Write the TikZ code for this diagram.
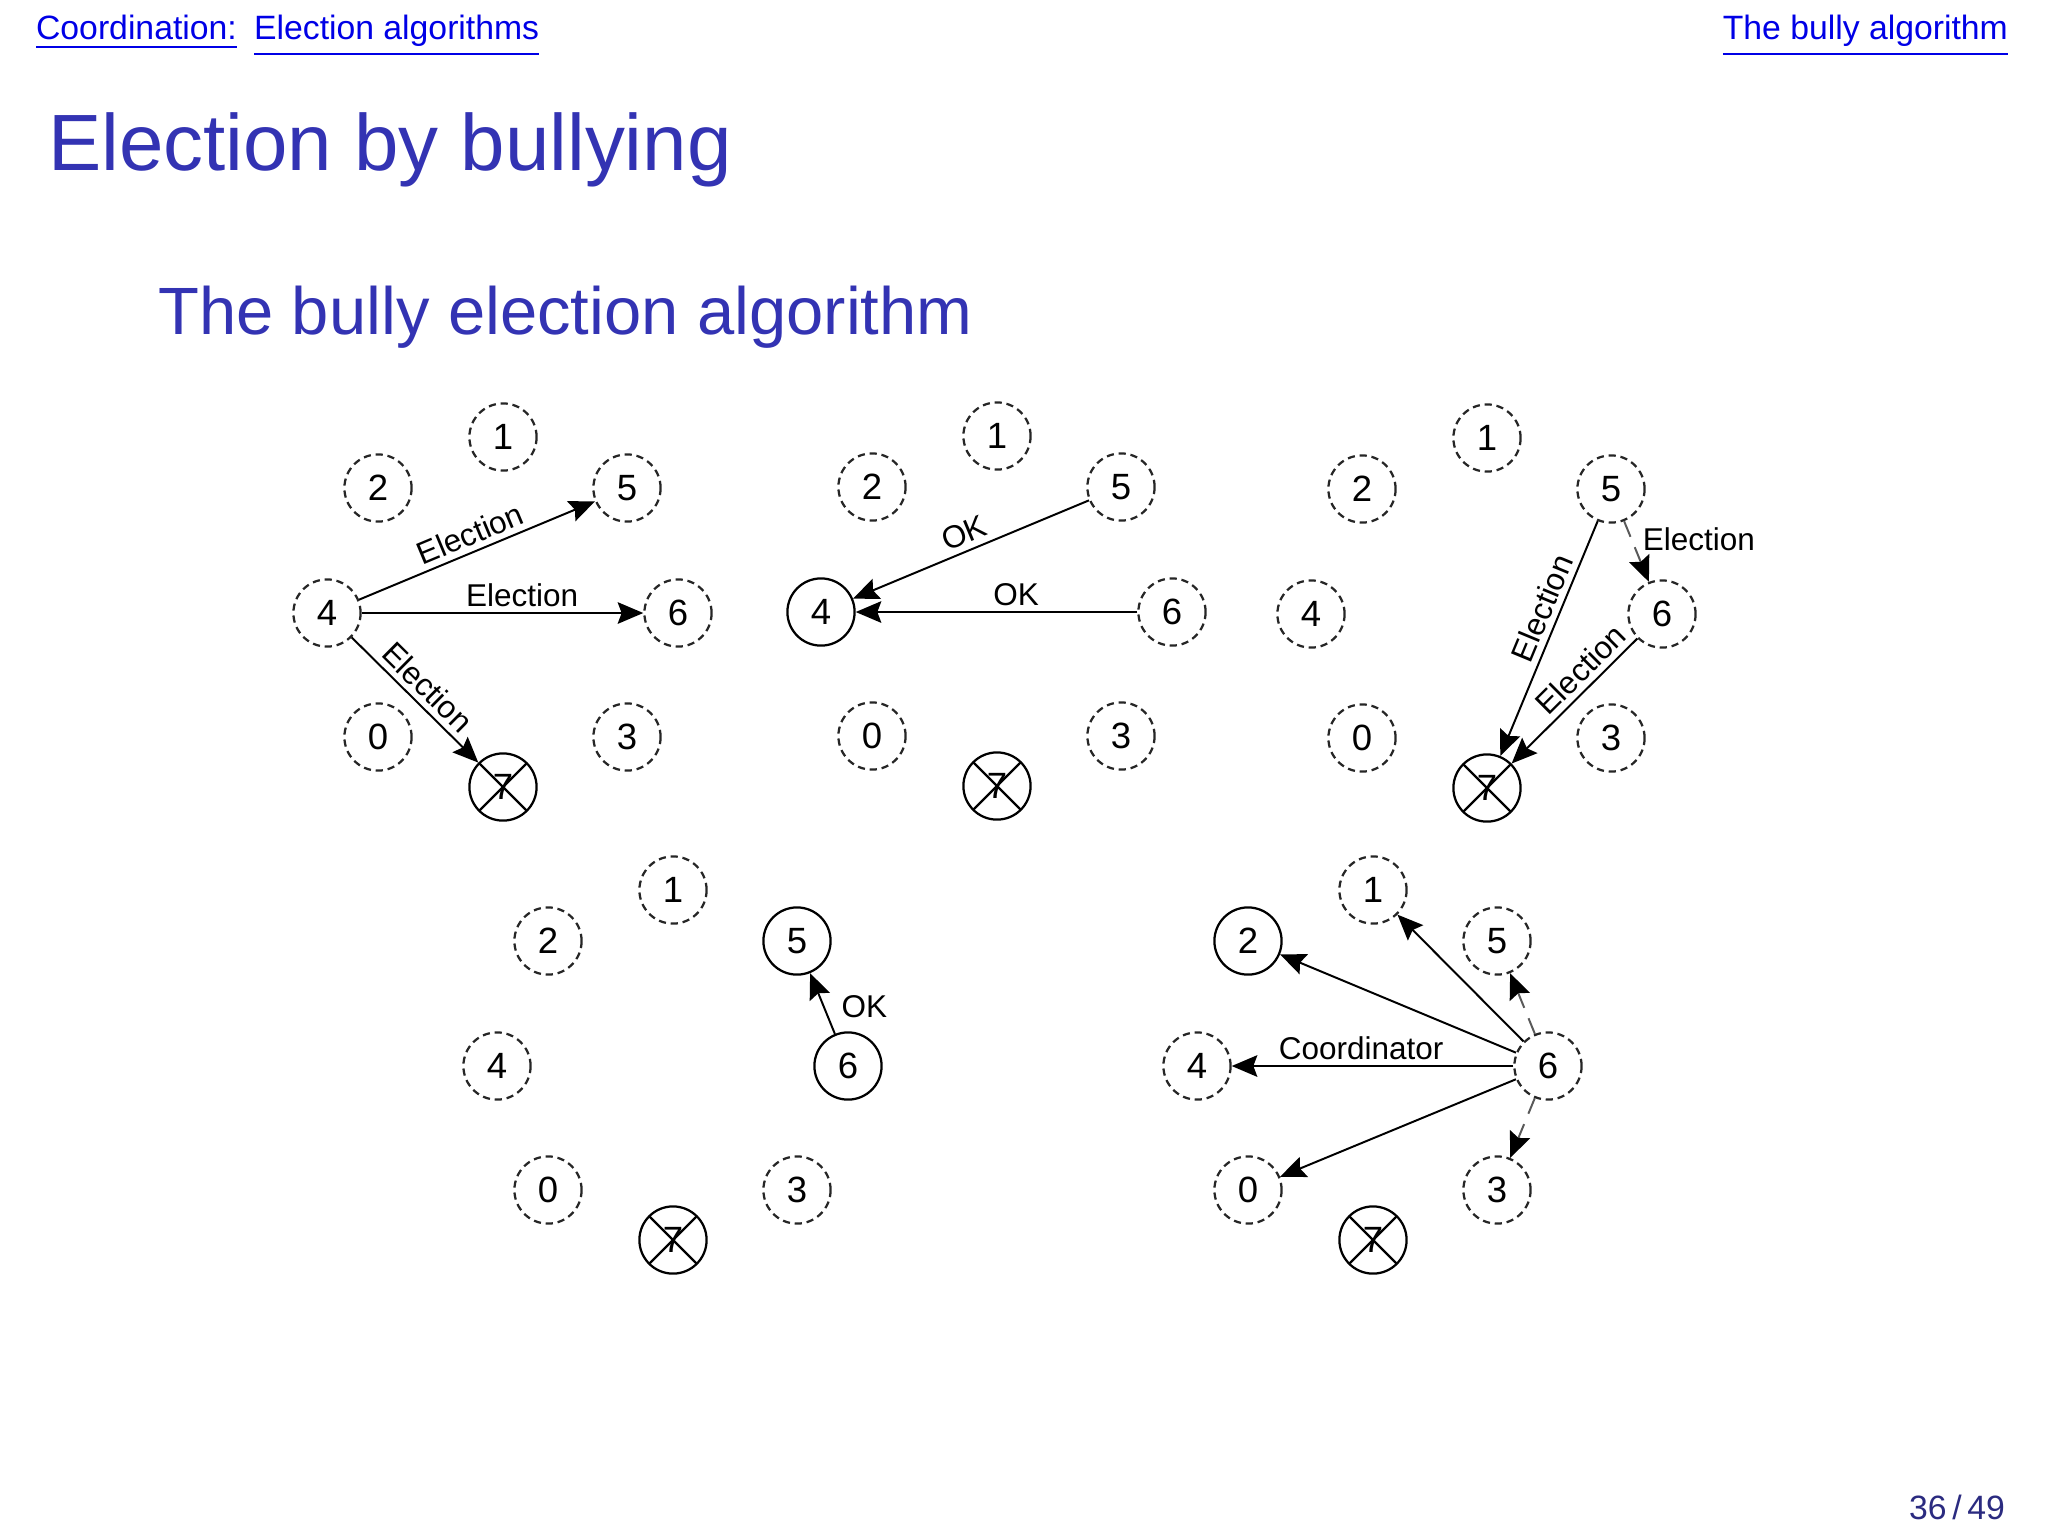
\documentclass[tikz,border=0pt]{standalone}
\usepackage{fontspec}
\setmainfont{Liberation Sans}
\usetikzlibrary{arrows.meta}
\definecolor{slideblue}{RGB}{51,51,179}
\definecolor{linkblue}{RGB}{0,0,230}
\definecolor{pageblue}{RGB}{43,43,128}
\tikzset{
  pnode/.style={circle,minimum size=4.2mm,inner sep=0pt,line width=0.4pt,
    font=\fontsize{6.5}{7}\selectfont},
  proc/.style={pnode,draw=black!85,dash pattern=on 0.45mm off 0.3mm},
  active/.style={pnode,draw},
  crashed/.style={pnode,draw,path picture={
    \draw (path picture bounding box.north west) -- (path picture bounding box.south east)
          (path picture bounding box.north east) -- (path picture bounding box.south west);}},
  msg/.style={-{Stealth[length=1.6mm,width=1.35mm,inset=0.25mm,black]},line width=0.35pt},
  faint/.style={msg,draw=black!65,densely dashed},
  lbl/.style={font=\fontsize{5.6}{6}\selectfont,inner sep=1pt,text=black}
}
\begin{document}
\begin{tikzpicture}[x=0.0625mm,y=-0.0625mm]
  \useasboundingbox (0,0) rectangle (2048,1537);
  % slide head
  \node[anchor=base west,inner sep=0pt,text=linkblue,font=\fontsize{6}{7}\selectfont]
    (hdrA) at (35,39) {\underline{Coordination:}};
  \node[anchor=base west,inner sep=0pt,text=linkblue,font=\fontsize{6}{7}\selectfont]
    (hdrB) at (253,39) {\underline{Election algorithms}};
  \node[anchor=base east,inner sep=0pt,text=linkblue,font=\fontsize{6}{7}\selectfont]
    (hdrC) at (2009,39) {\underline{The bully algorithm}};
  \node[anchor=base west,inner sep=0pt,text=slideblue,font=\fontsize{14.2}{17}\selectfont]
    (title) at (47,170) {Election by bullying};
  \node[anchor=base west,inner sep=0pt,text=slideblue,font=\fontsize{11.9}{14}\selectfont]
    (subtitle) at (157,334) {The bully election algorithm};
  \node[anchor=base east,inner sep=0pt,text=pageblue,font=\fontsize{6}{7}\selectfont]
    (page) at (2006,1519) {36\,/\,49};

  % 4 holds an election
  \begin{scope}[shift={(503,613)}]
    \node[proc] (a1) at (0,-176) {1};
    \node[proc] (a2) at (-125,-125) {2};
    \node[proc] (a5) at (124,-125) {5};
    \node[proc] (a4) at (-176,0) {4};
    \node[proc] (a6) at (175,0) {6};
    \node[proc] (a0) at (-125,124) {0};
    \node[proc] (a3) at (124,124) {3};
    \node[crashed] (a7) at (0,174) {7};
    \draw[msg] (a4) -- node[lbl,sloped,above] {Election} (a5);
    \draw[msg] (a4) -- node[lbl,above,pos=0.57] {Election} (a6);
    \draw[msg] (a4) -- node[lbl,sloped,above] {Election} (a7);
  \end{scope}

  % 5 and 6 answer OK
  \begin{scope}[shift={(997,612)}]
    \node[proc] (b1) at (0,-176) {1};
    \node[proc] (b2) at (-125,-125) {2};
    \node[proc] (b5) at (124,-125) {5};
    \node[active] (b4) at (-176,0) {4};
    \node[proc] (b6) at (175,0) {6};
    \node[proc] (b0) at (-125,124) {0};
    \node[proc] (b3) at (124,124) {3};
    \node[crashed] (b7) at (0,174) {7};
    \draw[msg] (b5) -- node[lbl,sloped,above] {OK} (b4);
    \draw[msg] (b6) -- node[lbl,above,pos=0.43] {OK} (b4);
  \end{scope}

  % 5 and 6 hold elections
  \begin{scope}[shift={(1487,614)}]
    \node[proc] (c1) at (0,-176) {1};
    \node[proc] (c2) at (-125,-125) {2};
    \node[proc] (c5) at (124,-125) {5};
    \node[proc] (c4) at (-176,0) {4};
    \node[proc] (c6) at (175,0) {6};
    \node[proc] (c0) at (-125,124) {0};
    \node[proc] (c3) at (124,124) {3};
    \node[crashed] (c7) at (0,174) {7};
    \draw[faint] (c5) -- node[lbl,right,pos=0.3,xshift=0.3mm] {Election} (c6);
    \draw[msg] (c5) -- node[lbl,sloped,above,pos=0.4] {Election} (c7);
    \draw[msg] (c6) -- node[lbl,sloped,above,pos=0.35] {Election} (c7);
  \end{scope}

  % 6 tells 5 to stop
  \begin{scope}[shift={(673,1066)}]
    \node[proc] (d1) at (0,-176) {1};
    \node[proc] (d2) at (-125,-125) {2};
    \node[active] (d5) at (124,-125) {5};
    \node[proc] (d4) at (-176,0) {4};
    \node[active] (d6) at (175,0) {6};
    \node[proc] (d0) at (-125,124) {0};
    \node[proc] (d3) at (124,124) {3};
    \node[crashed] (d7) at (0,174) {7};
    \draw[msg] (d6) -- node[lbl,right,pos=0.45,xshift=0.7mm] {OK} (d5);
  \end{scope}

  % 6 wins and tells everyone
  \begin{scope}[shift={(1373,1066)}]
    \node[proc] (e1) at (0,-176) {1};
    \node[active] (e2) at (-125,-125) {2};
    \node[proc] (e5) at (124,-125) {5};
    \node[proc] (e4) at (-176,0) {4};
    \node[proc] (e6) at (175,0) {6};
    \node[proc] (e0) at (-125,124) {0};
    \node[proc] (e3) at (124,124) {3};
    \node[crashed] (e7) at (0,174) {7};
    \draw[msg] (e6) -- (e1);
    \draw[msg] (e6) -- (e2);
    \draw[msg] (e6) -- node[lbl,above,pos=0.54] {Coordinator} (e4);
    \draw[msg] (e6) -- (e0);
    \draw[faint] (e6) -- (e5);
    \draw[faint] (e6) -- (e3);
  \end{scope}
\end{tikzpicture}
\end{document}
